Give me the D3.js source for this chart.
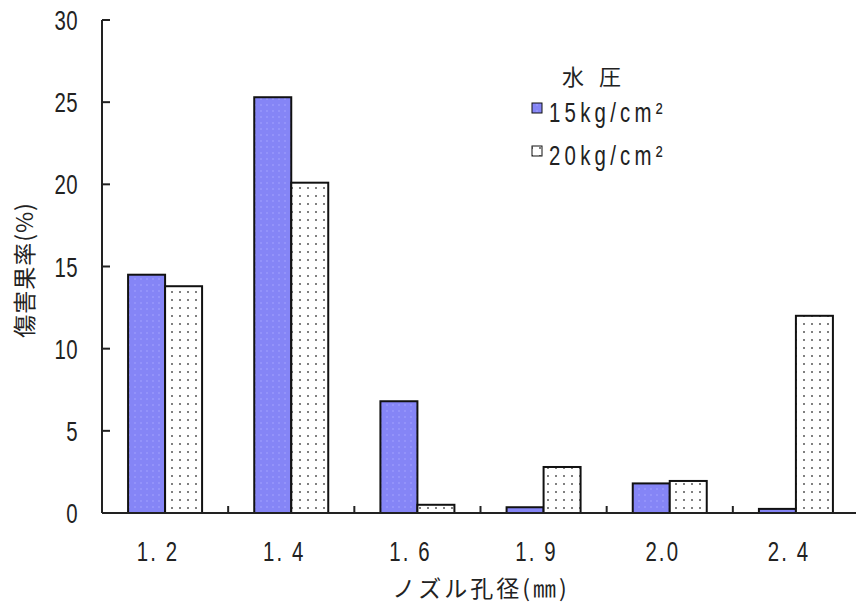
<!DOCTYPE html>
<html>
<head>
<meta charset="utf-8">
<script src="https://cdn.jsdelivr.net/npm/d3@7"></script>
<style>
  html, body { margin: 0; padding: 0; background: #fff; }
  svg { display: block; }
  .num { font-family: "Liberation Sans", Arial, sans-serif; fill: #222; }
  .jp { font-family: "Noto Sans CJK JP", sans-serif; fill: #222; }
</style>
</head>
<body>
<svg id="chart" width="856" height="605"></svg>
<script>
// ---- data ----
const categories = ["1.2", "1.4", "1.6", "1.9", "2.0", "2.4"];
const categoryLabels = ["1. 2", "1. 4", "1. 6", "1. 9", "2.0", "2. 4"];
const seriesNames = ["15kg/cm²", "20kg/cm²"];
const series15 = [14.5, 25.3, 6.8, 0.35, 1.8, 0.25];
const series20 = [13.8, 20.1, 0.5, 2.8, 1.95, 12.0];
const yTicks = [0, 5, 10, 15, 20, 25, 30];
const legendTitle = "水圧";
const yTitle = "傷害果率(%)";
const xTitle = "ノズル孔径(㎜)";

const svg = d3.select("#chart");
const mLeft = 102, mTop = 20, mBottom = 513, mRight = 859;
const SX = 0.85, SY = 1.15, NUMSIZE = 24;

const defs = svg.append("defs");
const pBlue = defs.append("pattern").attr("id", "pblue").attr("patternUnits", "userSpaceOnUse")
  .attr("width", 6).attr("height", 6);
pBlue.append("rect").attr("width", 6).attr("height", 6).attr("fill", "#8585f6");
pBlue.append("rect").attr("x", 2).attr("y", 2).attr("width", 2).attr("height", 2).attr("fill", "#9393fa");
const pDot = defs.append("pattern").attr("id", "pdot").attr("patternUnits", "userSpaceOnUse")
  .attr("width", 8).attr("height", 8);
pDot.append("rect").attr("width", 8).attr("height", 8).attr("fill", "#fff");
pDot.append("rect").attr("x", 3).attr("y", 3).attr("width", 2).attr("height", 2).attr("fill", "#808080");

const fills = ["url(#pblue)", "url(#pdot)"];

const x0 = d3.scaleBand().domain(categories).range([mLeft, mRight])
  .paddingInner(0.4135).paddingOuter(0.4135 / 2);
const x1 = d3.scaleBand().domain(seriesNames).range([0, x0.bandwidth()]);
const y = d3.scaleLinear().domain([0, 30]).range([mBottom, mTop]);

const data = categories.map((c, i) => ({ cat: c, vals: [series15[i], series20[i]] }));

function numText(x, yy, anchor, txt, ls) {
  return svg.append("text").attr("class", "num")
    .attr("transform", `translate(${x},${yy}) scale(${SX},${SY})`)
    .attr("text-anchor", anchor).attr("font-size", NUMSIZE)
    .attr("letter-spacing", ls || 0).text(txt);
}

// bars
const g = svg.append("g");
data.forEach(d => {
  d.vals.forEach((v, j) => {
    g.append("rect")
      .attr("x", x0(d.cat) + x1(seriesNames[j]))
      .attr("y", y(v))
      .attr("width", x1.bandwidth())
      .attr("height", y(0) - y(v))
      .attr("fill", fills[j])
      .attr("stroke", "#111")
      .attr("stroke-width", 2);
  });
});

// axes lines
svg.append("line").attr("x1", mLeft).attr("x2", mLeft).attr("y1", mTop).attr("y2", mBottom)
  .attr("stroke", "#222").attr("stroke-width", 2);
svg.append("line").attr("x1", mLeft).attr("x2", 856).attr("y1", mBottom).attr("y2", mBottom)
  .attr("stroke", "#222").attr("stroke-width", 2);

// y ticks (inward)
yTicks.forEach(t => {
  if (t > 0) {
    svg.append("line").attr("x1", mLeft).attr("x2", mLeft + 8).attr("y1", y(t)).attr("y2", y(t))
      .attr("stroke", "#222").attr("stroke-width", 2);
  }
  numText(78, y(t) + 10, "end", t, 0.5);
});

// x ticks at group boundaries (inward)
const step = x0.step();
categories.forEach((c, i) => {
  const bx = x0(c) + x0.bandwidth() + (step - x0.bandwidth()) / 2;
  if (bx < 856) {
    svg.append("line").attr("x1", bx).attr("x2", bx).attr("y1", mBottom).attr("y2", mBottom - 7)
      .attr("stroke", "#222").attr("stroke-width", 2);
  }
  numText(x0(c) + x0.bandwidth() / 2 - 7, 561, "middle", categoryLabels[i], 2.5);
});

// axis titles
svg.append("text").attr("class", "jp").attr("transform", "translate(33,270) rotate(-90)")
  .attr("text-anchor", "middle").attr("font-size", 23).attr("letter-spacing", 1).text(yTitle);
svg.append("text").attr("class", "jp").attr("x", 481).attr("y", 597)
  .attr("text-anchor", "middle").attr("font-size", 23).attr("letter-spacing", 3).text(xTitle);

// legend
svg.append("text").attr("class", "jp").attr("x", 562).attr("y", 85)
  .attr("font-size", 22).attr("letter-spacing", 15).text(legendTitle);
const legY = [103, 146];
seriesNames.forEach((s, j) => {
  svg.append("rect").attr("x", 532).attr("y", legY[j]).attr("width", 10).attr("height", 10)
    .attr("fill", fills[j]).attr("stroke", "#111").attr("stroke-width", 1);
  numText(549, legY[j] + 19, "start", s, 5);
});
</script>
</body>
</html>
